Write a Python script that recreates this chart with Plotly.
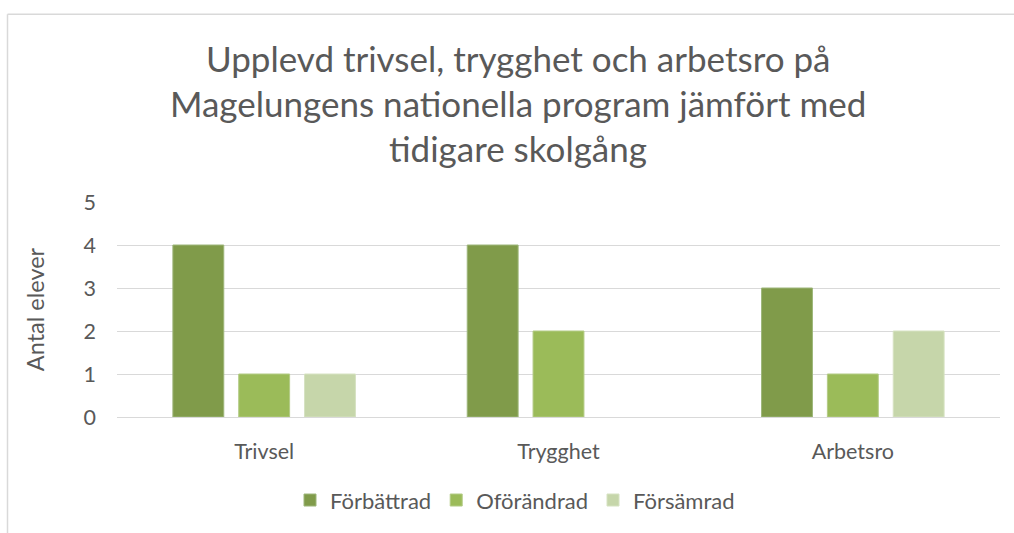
import plotly.graph_objects as go

categories = ["Trivsel", "Trygghet", "Arbetsro"]
series_names = ["Förbättrad", "Oförändrad", "Försämrad"]
forbattrad = [4, 4, 3]
oforandrad = [1, 2, 1]
forsamrad = [1, 0, 2]
y_ticks = [0, 1, 2, 3, 4, 5]
title_lines = ["Upplevd trivsel, trygghet och arbetsro på",
               "Magelungens nationella program jämfört med",
               "tidigare skolgång"]

fills = ["#809B4A", "#9BBB59", "#C6D6AA"]
borders = ["#9DB67A", "#B3CB85", "#D6E2C2"]
values = [forbattrad, oforandrad, forsamrad]

FONT = "Lato"
TXT = "#595959"

fig = go.Figure()
for name, vals, f, b in zip(series_names, values, fills, borders):
    fig.add_trace(go.Bar(x=categories, y=vals, name=name,
                         marker=dict(color=f,
                                     line=dict(color=b, width=[1 if v else 0 for v in vals]))))

L, R, T, B = 117, 14, 202, 114
W, H = 1014, 533
pw = W - L - R
ph = H - T - B

def px_x(px):
    return (px - L) / pw

def px_y(py):
    return (H - B - py) / ph

fig.update_layout(
    width=W, height=H,
    margin=dict(l=L, r=R, t=T, b=B, pad=0),
    paper_bgcolor="white", plot_bgcolor="white",
    barmode="group", bargap=0.329, bargroupgap=0.227,
    font=dict(family=FONT, color=TXT, size=21),
    showlegend=True,
    legend=dict(orientation="h", x=px_x(515), xanchor="center", y=px_y(503), yanchor="middle",
                font=dict(size=22, color=TXT), itemwidth=30, traceorder="normal",
                bgcolor="rgba(0,0,0,0)"),
    xaxis=dict(showgrid=False, showline=False, zeroline=False, ticks="",
               tickfont=dict(size=21.5, color=TXT), ticklabelstandoff=19),
    yaxis=dict(range=[0, 5], tickvals=y_ticks, showgrid=True, gridcolor="#D9D9D9",
               gridwidth=1, zeroline=True, zerolinecolor="#D9D9D9", zerolinewidth=1,
               showline=False, ticks="", tickfont=dict(size=21.5, color=TXT),
               ticklabelstandoff=20,
               title=dict(text="Antal elever", font=dict(size=23.5, color=TXT), standoff=32)),
)

title_y = [57, 102, 147]
for line, yy in zip(title_lines, title_y):
    fig.add_annotation(text=line, xref="paper", yref="paper", x=px_x(518), y=px_y(yy),
                       xanchor="center", yanchor="middle", showarrow=False,
                       font=dict(family=FONT, size=35, color=TXT))

# outer chart frame (cropped on right and bottom)
fig.add_shape(type="line", xref="paper", yref="paper", x0=px_x(7.5), x1=px_x(1020),
              y0=px_y(12.5), y1=px_y(12.5), line=dict(color="#D9D9D9", width=1.5))
fig.add_shape(type="line", xref="paper", yref="paper", x0=px_x(7.5), x1=px_x(7.5),
              y0=px_y(12.5), y1=px_y(540), line=dict(color="#D9D9D9", width=1.5))

fig.write_html("out.html", config={"displayModeBar": False},
               post_script="document.body.style.margin='0px';")
